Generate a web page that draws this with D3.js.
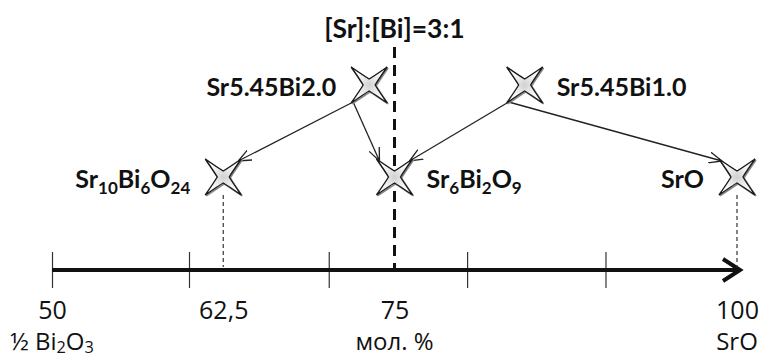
<!DOCTYPE html>
<html>
<head>
<meta charset="utf-8">
<script src="https://cdn.jsdelivr.net/npm/d3@7"></script>
<style>
  body { margin: 0; background: #fff; }
  svg { display: block; }
  text { font-family: Lato, "Open Sans", "Noto Sans", sans-serif; fill: #111; }
</style>
</head>
<body>
<svg></svg>
<script>
// phases on the SrO - Bi2O3 line, mol. % SrO
const phaseNames = ['Sr5.45Bi2.0', 'Sr5.45Bi1.0', 'Sr_{10}Bi_{6}O_{24}', 'Sr_{6}Bi_{2}O_{9}', 'SrO'];
const phaseMol = [73.15, 84.5, 62.5, 75, 100];
const phaseRow = [1, 1, 0, 0, 0]; // 1 = starting sample, 0 = product
const labelSide = ['left', 'right', 'left', 'right', 'left'];
const transitions = [[0, 2], [0, 3], [1, 3], [1, 4]];

const tickValues = [50, 60, 70.2, 80.3, 90.4];
const labelValues = [50, 62.5, 75, 100];
const labelTexts = ['50', '62,5', '75', '100'];
const nameValues = [50, 75, 100];
const nameTexts = ['½ Bi_{2}O_{3}', 'мол. %', 'SrO'];
const ratioValue = 75;
const ratioText = '[Sr]:[Bi]=3:1';

let width = 763;
let height = 360;
let axisY = 270;
let axisFont = '"Open Sans", "Noto Sans", sans-serif';

let svg = d3.select('svg').attr('width', width).attr('height', height);

let xScale = d3.scaleLinear().domain([50, 100]).range([52, 737]);
let yScale = d3.scaleLinear().domain([0, 1]).range([177, 85]);

// put "_{..}" parts as subscripts
let writeFormula = (sel, str, shift) => {
  let parts = str.split(/_\{([^}]*)\}/);
  let back = 0;
  parts.forEach((p, i) => {
    if (p === '') return;
    if (i % 2 === 1) {
      sel.append('tspan').attr('dy', shift + back).style('font-size', '0.68em').text(p);
      back = -shift;
    } else {
      sel.append('tspan').attr('dy', back).text(p);
      back = 0;
    }
  });
};

let defs = svg.append('defs');
let grad = defs.append('radialGradient').attr('id', 'starFill');
grad.append('stop').attr('offset', '0%').attr('stop-color', '#d0d0d0');
grad.append('stop').attr('offset', '55%').attr('stop-color', '#eeeeee');
grad.append('stop').attr('offset', '100%').attr('stop-color', '#ffffff');

defs.append('marker')
  .attr('id', 'arrow')
  .attr('viewBox', '0 0 13 12')
  .attr('refX', 13)
  .attr('refY', 6)
  .attr('markerWidth', 13)
  .attr('markerHeight', 12)
  .attr('markerUnits', 'userSpaceOnUse')
  .attr('orient', 'auto')
  .append('path')
  .attr('d', 'M0,0.5 L13,6 L0,11.5')
  .attr('fill', 'none')
  .attr('stroke', '#222')
  .attr('stroke-width', 1.3);

// axis ticks (long thin marks through the line)
let tickAxis = d3.axisBottom(xScale).tickValues(tickValues).tickFormat('').tickSize(36);
let gTicks = svg.append('g').attr('transform', `translate(0, ${axisY - 18})`).call(tickAxis);
gTicks.select('.domain').remove();
gTicks.selectAll('line').attr('stroke', '#333').attr('stroke-width', 1.2);

// main axis with open arrow head
let xEnd = xScale(100) + 3;
svg.append('line')
  .attr('x1', xScale(50)).attr('x2', xEnd - 2)
  .attr('y1', axisY).attr('y2', axisY)
  .attr('stroke', '#111').attr('stroke-width', 4);
svg.append('path')
  .attr('d', `M${xEnd - 17},${axisY - 11} L${xEnd},${axisY} L${xEnd - 17},${axisY + 11}`)
  .attr('fill', 'none').attr('stroke', '#111').attr('stroke-width', 4);

// value labels
let labelAxis = d3.axisBottom(xScale).tickValues(labelValues)
  .tickFormat((d, i) => labelTexts[i]).tickSize(0);
let gLabels = svg.append('g').attr('transform', `translate(0, ${axisY})`).call(labelAxis);
gLabels.select('.domain').remove();
gLabels.selectAll('text')
  .attr('y', 49).attr('dy', 0)
  .style('font-size', '25px')
  .style('font-family', axisFont)
  .attr('fill', '#111');

// component names under the values
svg.append('g').selectAll('text')
  .data(nameValues)
  .enter()
  .append('text')
  .attr('x', (d) => xScale(d))
  .attr('y', 350)
  .attr('text-anchor', 'middle')
  .style('font-size', '24px')
  .style('font-family', axisFont)
  .each(function (d, i) { writeFormula(d3.select(this), nameTexts[i], 3); });

// [Sr]:[Bi]=3:1 line
svg.append('line')
  .attr('x1', xScale(ratioValue)).attr('x2', xScale(ratioValue))
  .attr('y1', 47).attr('y2', axisY)
  .attr('stroke', '#111').attr('stroke-width', 3)
  .attr('stroke-dasharray', '11,7');
svg.append('text')
  .attr('x', xScale(ratioValue))
  .attr('y', 38)
  .attr('text-anchor', 'middle')
  .style('font-size', '26.5px')
  .style('font-weight', 'bold')
  .text(ratioText);

// drop lines from products to the axis
let products = phaseMol.map((d, i) => i).filter((i) => phaseRow[i] === 0 && phaseMol[i] !== ratioValue);
svg.append('g').selectAll('line')
  .data(products)
  .enter()
  .append('line')
  .attr('x1', (i) => xScale(phaseMol[i]))
  .attr('x2', (i) => xScale(phaseMol[i]))
  .attr('y1', (i) => yScale(phaseRow[i]) + 18)
  .attr('y2', axisY - 3)
  .attr('stroke', '#333').attr('stroke-width', 1.2)
  .attr('stroke-dasharray', '4,3');

// transition arrows: from lower-left tip of sample to upper tip of product
svg.append('g').selectAll('line')
  .data(transitions)
  .enter()
  .append('line')
  .attr('x1', (t) => xScale(phaseMol[t[0]]) - 16)
  .attr('y1', (t) => yScale(phaseRow[t[0]]) + 17)
  .attr('x2', (t) => {
    let xs = xScale(phaseMol[t[0]]) - 16;
    let xt = xScale(phaseMol[t[1]]);
    return xt < xs ? xt + 15 : xt - 15;
  })
  .attr('y2', (t) => yScale(phaseRow[t[1]]) - 16)
  .attr('stroke', '#222').attr('stroke-width', 1.3)
  .attr('marker-end', 'url(#arrow)');

// four-point stars (tips on the diagonals, slightly concave edges)
let starPath = [
  'M18,-18', 'Q9,-5 6,0', 'Q9,5 18,18',
  'Q5,9 0,6', 'Q-5,9 -18,18',
  'Q-9,5 -6,0', 'Q-9,-5 -18,-18',
  'Q-5,-9 0,-6', 'Q5,-9 18,-18', 'Z'
].join(' ');
let gStars = svg.append('g');
gStars.selectAll('path.shadow')
  .data(phaseMol)
  .enter()
  .append('path')
  .attr('class', 'shadow')
  .attr('d', starPath)
  .attr('transform', (d, i) => `translate(${xScale(d) + 1}, ${yScale(phaseRow[i]) + 1})`)
  .attr('fill', 'none')
  .attr('stroke', '#888')
  .attr('stroke-width', 1.5);
gStars.selectAll('path.star')
  .data(phaseMol)
  .enter()
  .append('path')
  .attr('class', 'star')
  .attr('d', starPath)
  .attr('transform', (d, i) => `translate(${xScale(d)}, ${yScale(phaseRow[i])})`)
  .attr('fill', 'url(#starFill)')
  .attr('stroke', '#1a1a1a')
  .attr('stroke-width', 1.4)
  .attr('stroke-linejoin', 'miter');

// phase labels
svg.append('g').selectAll('text')
  .data(phaseNames)
  .enter()
  .append('text')
  .attr('x', (d, i) => xScale(phaseMol[i]) + (labelSide[i] === 'left' ? -33 : 32))
  .attr('y', (d, i) => yScale(phaseRow[i]) + 11)
  .attr('text-anchor', (d, i) => (labelSide[i] === 'left' ? 'end' : 'start'))
  .style('font-size', '25px')
  .style('font-weight', 'bold')
  .each(function (d) { writeFormula(d3.select(this), d, 6); });
</script>
</body>
</html>
